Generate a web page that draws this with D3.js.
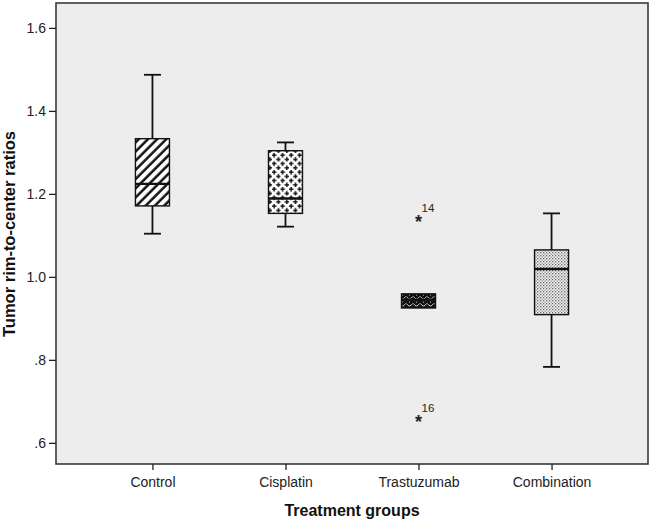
<!DOCTYPE html>
<html>
<head>
<meta charset="utf-8">
<script src="https://cdn.jsdelivr.net/npm/d3@7/dist/d3.min.js"></script>
<style>
  html, body { margin: 0; padding: 0; background: #ffffff; }
  svg { display: block; }
  text { font-family: "Liberation Sans", Arial, sans-serif; }
</style>
</head>
<body>
<svg id="chart" width="652" height="522"></svg>
<script>
const categories = ["Control", "Cisplatin", "Trastuzumab", "Combination"];
const whiskerLow  = [1.104, 1.121, 0.925, 0.783];
const q1          = [1.171, 1.153, 0.925, 0.909];
const median      = [1.224, 1.189, 0.945, 1.019];
const q3          = [1.333, 1.304, 0.959, 1.065];
const whiskerHigh = [1.487, 1.324, 0.959, 1.153];
const outlierGroup = ["Trastuzumab", "Trastuzumab"];
const outlierValue = [1.144, 0.662];
const outlierLabel = ["14", "16"];
const yTicks = [0.6, 0.8, 1.0, 1.2, 1.4, 1.6];
const patternIds = ["pHatch", "pPlus", "pScallop", "pDots"];

const W = 652, H = 522;
const m = {left: 56, right: 4, top: 3, bottom: 58};
const narrow = "'Liberation Sans Narrow', 'Arial Narrow', 'Liberation Sans', Arial, sans-serif";
const svg = d3.select("#chart");

const defs = svg.append("defs");
// diagonal hatch
const ph = defs.append("pattern").attr("id", "pHatch").attr("patternUnits", "userSpaceOnUse")
  .attr("width", 6.5).attr("height", 6.5).attr("patternTransform", "rotate(45)");
ph.append("rect").attr("width", 6.5).attr("height", 6.5).attr("fill", "#fff");
ph.append("line").attr("x1", 1.5).attr("x2", 1.5).attr("y1", 0).attr("y2", 6.5)
  .attr("stroke", "#111").attr("stroke-width", 2.5);
// plus signs
const pp = defs.append("pattern").attr("id", "pPlus").attr("patternUnits", "userSpaceOnUse")
  .attr("width", 8.5).attr("height", 8.5);
pp.append("rect").attr("width", 8.5).attr("height", 8.5).attr("fill", "#fff");
[[2.125, 2.125], [6.375, 6.375]].forEach(([cx, cy]) => {
  pp.append("path").attr("d", `M${cx-2.3},${cy}H${cx+2.3}M${cx},${cy-2.3}V${cy+2.3}`)
    .attr("stroke", "#111").attr("stroke-width", 1.5);
});
// dark scallops
const ps = defs.append("pattern").attr("id", "pScallop").attr("patternUnits", "userSpaceOnUse")
  .attr("width", 7).attr("height", 7);
ps.append("rect").attr("width", 7).attr("height", 7).attr("fill", "#111");
ps.append("path").attr("d", "M0.5,2.5 Q3.5,7.5 6.5,2.5").attr("fill", "none")
  .attr("stroke", "#ddd").attr("stroke-width", 0.9);
ps.append("circle").attr("cx", 3.5).attr("cy", 1).attr("r", 0.6).attr("fill", "#ddd");
// fine dots
const pd = defs.append("pattern").attr("id", "pDots").attr("patternUnits", "userSpaceOnUse")
  .attr("width", 3).attr("height", 3);
pd.append("rect").attr("width", 3).attr("height", 3).attr("fill", "#f4f4f4");
pd.append("rect").attr("x", 0).attr("y", 0).attr("width", 1.3).attr("height", 1.3).attr("fill", "#666");
pd.append("rect").attr("x", 1.5).attr("y", 1.5).attr("width", 1.3).attr("height", 1.3).attr("fill", "#888");

const x = d3.scalePoint().domain(categories).range([m.left, W - m.right]).padding(0.725);
const y = d3.scaleLinear().domain([0.549, 1.66]).range([H - m.bottom, m.top]);

// plot background and frame
svg.append("rect").attr("x", m.left).attr("y", m.top)
  .attr("width", W - m.left - m.right).attr("height", H - m.top - m.bottom)
  .attr("fill", "#ededed").attr("stroke", "#3a3a3a").attr("stroke-width", 1.6);

// y axis
const fmt = d => { const s = d3.format(".1f")(d); return s.startsWith("0") ? s.slice(1) : s; };
const yAxis = svg.append("g").attr("transform", `translate(${m.left},0)`)
  .call(d3.axisLeft(y).tickValues(yTicks).tickFormat(fmt).tickSize(7).tickPadding(3));
yAxis.select(".domain").remove();
yAxis.selectAll(".tick line").attr("stroke", "#222").attr("stroke-width", 1.3);
yAxis.selectAll(".tick text").attr("font-size", 14).attr("fill", "#222")
  .attr("font-family", narrow);

// x axis
const xAxis = svg.append("g").attr("transform", `translate(0,${H - m.bottom})`)
  .call(d3.axisBottom(x).tickSize(6).tickPadding(7));
xAxis.select(".domain").remove();
xAxis.selectAll(".tick line").attr("stroke", "#222").attr("stroke-width", 1.3);
xAxis.selectAll(".tick text").attr("font-size", 14).attr("fill", "#222")
  .attr("font-family", narrow);

// titles
svg.append("text").attr("x", 352).attr("y", 516).attr("text-anchor", "middle")
  .attr("font-size", 16).attr("font-weight", "bold").attr("fill", "#111").text("Treatment groups");
svg.append("text").attr("transform", `translate(15,234) rotate(-90)`)
  .attr("text-anchor", "middle").attr("font-size", 16.5).attr("font-weight", "bold").attr("fill", "#111")
  .text("Tumor rim-to-center ratios");

// boxes
const boxW = 34, capW = 17;
const g = svg.append("g");
categories.forEach((c, i) => {
  const cx = x(c);
  const bg = g.append("g");
  if (whiskerHigh[i] > q3[i]) {
    bg.append("line").attr("x1", cx).attr("x2", cx).attr("y1", y(q3[i])).attr("y2", y(whiskerHigh[i]))
      .attr("stroke", "#111").attr("stroke-width", 1.8);
    bg.append("line").attr("x1", cx - capW / 2).attr("x2", cx + capW / 2)
      .attr("y1", y(whiskerHigh[i])).attr("y2", y(whiskerHigh[i])).attr("stroke", "#111").attr("stroke-width", 1.8);
  }
  if (whiskerLow[i] < q1[i]) {
    bg.append("line").attr("x1", cx).attr("x2", cx).attr("y1", y(q1[i])).attr("y2", y(whiskerLow[i]))
      .attr("stroke", "#111").attr("stroke-width", 1.8);
    bg.append("line").attr("x1", cx - capW / 2).attr("x2", cx + capW / 2)
      .attr("y1", y(whiskerLow[i])).attr("y2", y(whiskerLow[i])).attr("stroke", "#111").attr("stroke-width", 1.8);
  }
  bg.append("rect").attr("x", cx - boxW / 2).attr("y", y(q3[i]))
    .attr("width", boxW).attr("height", y(q1[i]) - y(q3[i]))
    .attr("fill", `url(#${patternIds[i]})`).attr("stroke", "#111").attr("stroke-width", 1.4);
  bg.append("line").attr("x1", cx - boxW / 2).attr("x2", cx + boxW / 2)
    .attr("y1", y(median[i])).attr("y2", y(median[i])).attr("stroke", "#111").attr("stroke-width", 2.4);
});

// outliers
outlierValue.forEach((v, i) => {
  const cx = x(outlierGroup[i]);
  g.append("text").attr("x", cx).attr("y", y(v) + 10.5).attr("text-anchor", "middle")
    .attr("font-size", 18).attr("font-weight", "bold").attr("fill", "#222").text("*");
  g.append("text").attr("x", cx + 3).attr("y", y(v) - 5)
    .attr("font-size", 11.5).attr("fill", "#222").text(outlierLabel[i]);
});
</script>
</body>
</html>
